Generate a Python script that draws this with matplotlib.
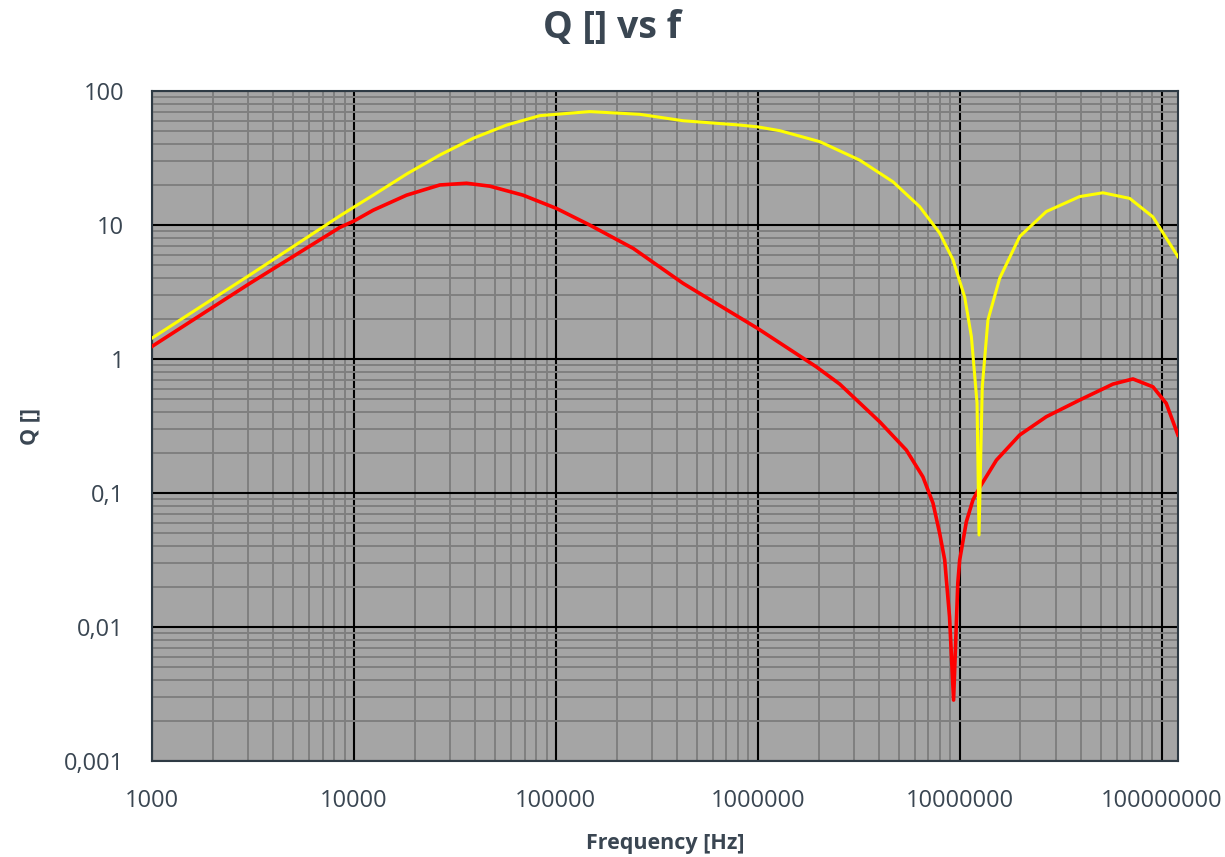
import matplotlib.pyplot as plt
from matplotlib.ticker import FixedLocator, FuncFormatter, LogLocator, NullFormatter

# ------------------------- #
# Dados
# ------------------------- #
freq_yellow = [1000, 3055, 8531, 10000, 12470, 18240, 26670, 38990, 57020,
               83370, 147200, 260600, 427000, 814700, 1000000, 1285000,
               2028000, 3199000, 4677000, 6339000, 7962000, 9268000,
               10590000, 11430000, 12190000, 12470000, 12940000, 13800000,
               15780000, 19820000, 26850000, 39260000, 51170000, 69500000,
               90570000, 120500000]
q_yellow = [1.43, 4.24, 11.7, 13.6, 16.7, 24, 33.3, 44.4, 55.7,
            65.5, 70.2, 67, 60, 55.7, 54, 50.6,
            41.9, 30.5, 21, 13.7, 8.7, 5.5,
            2.9, 1.47, 0.47, 0.0486, 0.62, 1.95,
            4.0, 8.2, 12.6, 16.3, 17.4, 15.8,
            11.5, 5.8]

freq_red = [1000, 3055, 8531, 10000, 12470, 18240, 26670, 36140, 47100,
            68870, 100700, 147200, 241500, 427000, 1000000, 1945000,
            2547000, 4018000, 5445000, 6577000, 7379000, 7962000, 8433000,
            8910000, 9330000, 9790000, 10000000, 10790000, 11640000,
            12560000, 15210000, 19820000, 26850000, 39260000, 57410000,
            72110000, 90570000, 105400000, 120500000]
q_red = [1.24, 3.67, 9.6, 10.7, 12.9, 16.7, 19.9, 20.5, 19.5,
         16.7, 13.3, 10, 6.7, 3.67, 1.69, 0.877,
         0.65, 0.34, 0.209, 0.132, 0.084, 0.05, 0.0316,
         0.0119, 0.00285, 0.0212, 0.0316, 0.061, 0.089,
         0.11, 0.176, 0.271, 0.371, 0.494, 0.65,
         0.71, 0.62, 0.467, 0.271]

x_ticks = [1e3, 1e4, 1e5, 1e6, 1e7, 1e8]
y_ticks = [0.001, 0.01, 0.1, 1, 10, 100]
y_labels = ["0,001", "0,01", "0,1", "1", "10", "100"]

TEXT = "#3a4652"
plt.rcParams['font.family'] = ['Open Sans', 'DejaVu Sans']

fig = plt.figure(figsize=(12.25, 8.57), dpi=100)
ax = fig.add_axes([0.124, 0.112, 0.8376, 0.7818])
ax.set_facecolor("#a5a5a5")

ax.plot(freq_red, q_red, color="#ff0000", lw=2.6, zorder=3,
        solid_joinstyle="round")
ax.plot(freq_yellow, q_yellow, color="#ffff00", lw=2.2, zorder=4,
        solid_joinstyle="round")

ax.set_xscale("log")
ax.set_yscale("log")
ax.set_xlim(1000, 1.205e8)
ax.set_ylim(0.001, 100)

ax.xaxis.set_major_locator(FixedLocator(x_ticks))
ax.xaxis.set_major_formatter(FuncFormatter(lambda v, p: f"{v:.0f}"))
ax.yaxis.set_major_locator(FixedLocator(y_ticks))
ax.yaxis.set_major_formatter(FuncFormatter(
    lambda v, p: y_labels[y_ticks.index(min(y_ticks, key=lambda t: abs(t - v)))]))
ax.xaxis.set_minor_locator(LogLocator(base=10, subs=range(2, 10), numticks=20))
ax.yaxis.set_minor_locator(LogLocator(base=10, subs=range(2, 10), numticks=20))
ax.xaxis.set_minor_formatter(NullFormatter())
ax.yaxis.set_minor_formatter(NullFormatter())

ax.grid(which="minor", color="#7f7f7f", lw=1.4, zorder=1)
ax.grid(which="major", color="#000000", lw=1.5, zorder=2)
ax.set_axisbelow(True)

ax.tick_params(which="both", length=0, labelsize=17, colors=TEXT, pad=20)
for s in ax.spines.values():
    s.set_color("#2e3a44")
    s.set_linewidth(1.5)

fig.text(0.5, 1 - 28 / 857, "Q [] vs f", fontsize=27, fontweight="bold",
         color=TEXT, ha="center", va="center")
ax.set_xlabel("Frequency [Hz]", fontsize=15.5, fontweight="bold", color=TEXT,
              va="center")
ax.set_ylabel("Q []", fontsize=15.5, fontweight="bold", color=TEXT,
              va="center")
ax.xaxis.set_label_coords(0.5, -0.1224)
ax.yaxis.set_label_coords(-0.119, 0.5)

fig.savefig("out.png", dpi=100)
